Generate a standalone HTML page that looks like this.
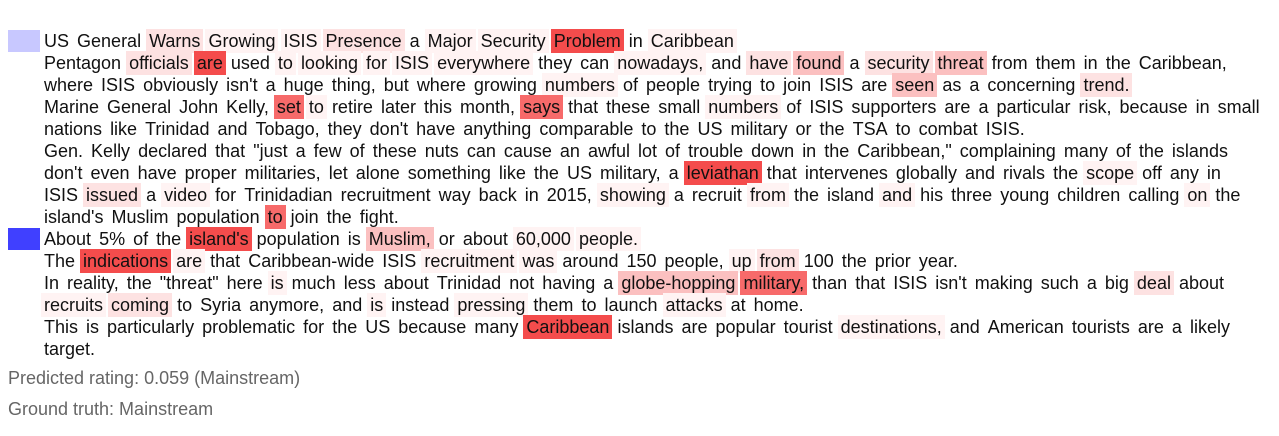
<!DOCTYPE html>
<html><head><meta charset="utf-8">
<style>
body{margin:0;width:1279px;height:436px;background:#fff;font-family:"Liberation Sans",Arial,sans-serif;overflow:hidden}
#wrap{position:absolute;left:0;top:30px}
.block{position:relative;padding-left:41px;width:1228px}
.box{position:absolute;left:8px;top:0;width:32px;height:22px}
.sent{font-size:18px;line-height:22px;color:#111;word-spacing:-3px}
.w{padding:2px 3px;word-spacing:0}
.l0{background:transparent}.l1{background:#fff3f3}.l2{background:#fde2e2}.l3{background:#fbc0c0}.l4{background:#f76a6a}.l5{background:#f44c4c}
.foot{position:absolute;left:8px;font-size:18px;color:#666}
</style></head><body>
<div id="wrap"></div>
<div class="foot" style="top:368px">Predicted rating: 0.059 (Mainstream)</div>
<div class="foot" style="top:399px">Ground truth: Mainstream</div>
<script>
const boxColors=["#c8c8ff","#4040ff"];
const block1=[
"US General Warns|2 Growing|1 ISIS|1 Presence|2 a Major|1 Security|1 Problem|5 in Caribbean|1",
"Pentagon officials|2 are|5 used to|1 looking|1 for|1 ISIS|1 everywhere|1 they can nowadays,|1 and have|2 found|3 a security|2 threat|3 from them in the Caribbean, where ISIS obviously isn't a huge thing, but where growing numbers|1 of people trying to join ISIS are seen|3 as a concerning trend.|2",
"Marine General John Kelly, set|4 to|1 retire later this month, says|4 that these small numbers|1 of ISIS supporters are a particular risk, because in small nations like Trinidad and Tobago, they don't have anything comparable to the US military or the TSA to combat ISIS.",
"Gen. Kelly declared that \"just a few of these nuts can cause an awful lot of trouble down in the Caribbean,\" complaining many of the islands don't even have proper militaries, let alone something like the US military, a leviathan|5 that intervenes globally and rivals the scope|1 off any in ~ ISIS issued|2 a video|1 for Trinidadian recruitment way back in 2015, showing|1 a recruit from|1 the island and|1 his three young children calling on|1 the island's Muslim population to|4 join the fight."];
const block2=[
"About 5% of the island's|5 population is Muslim,|3 or about 60,000|1 people.|1",
"The indications|5 are|1 that Caribbean-wide ISIS recruitment|1 was|1 around 150 people, up|1 from|2 100 the prior year.",
"In reality, the \"threat\" here is|1 much less about Trinidad not having a globe-hopping|3 military,|4 than that ISIS isn't making such a big deal|2 about recruits|1 coming|2 to Syria anymore, and is|1 instead pressing|1 them to launch attacks|1 at home.",
"This is particularly problematic for the US because many Caribbean|5 islands are popular tourist destinations,|1 and American tourists are a likely target."];
const blocks=[block1,block2];
const wrap=document.getElementById('wrap');
blocks.forEach((b,bi)=>{
  const blk=document.createElement('div');blk.className='block';
  
  
  const box=document.createElement('div');box.className='box';box.style.background=boxColors[bi];
  
  
  blk.appendChild(box);
  b.forEach(s=>{
    const d=document.createElement('div');d.className='sent';
    
    
    s.split(' ').forEach((tok,i)=>{
      if(tok==='~'){d.appendChild(document.createElement('br'));return;}
      let [w,l]=tok.split('|');l=l||0;
      const sp=document.createElement('span');sp.className='w l'+l;sp.textContent=w;
      
      
      d.appendChild(sp);d.appendChild(document.createTextNode(' '));
    });
    blk.appendChild(d);
  });
  wrap.appendChild(blk);
});
</script>
</body></html>
